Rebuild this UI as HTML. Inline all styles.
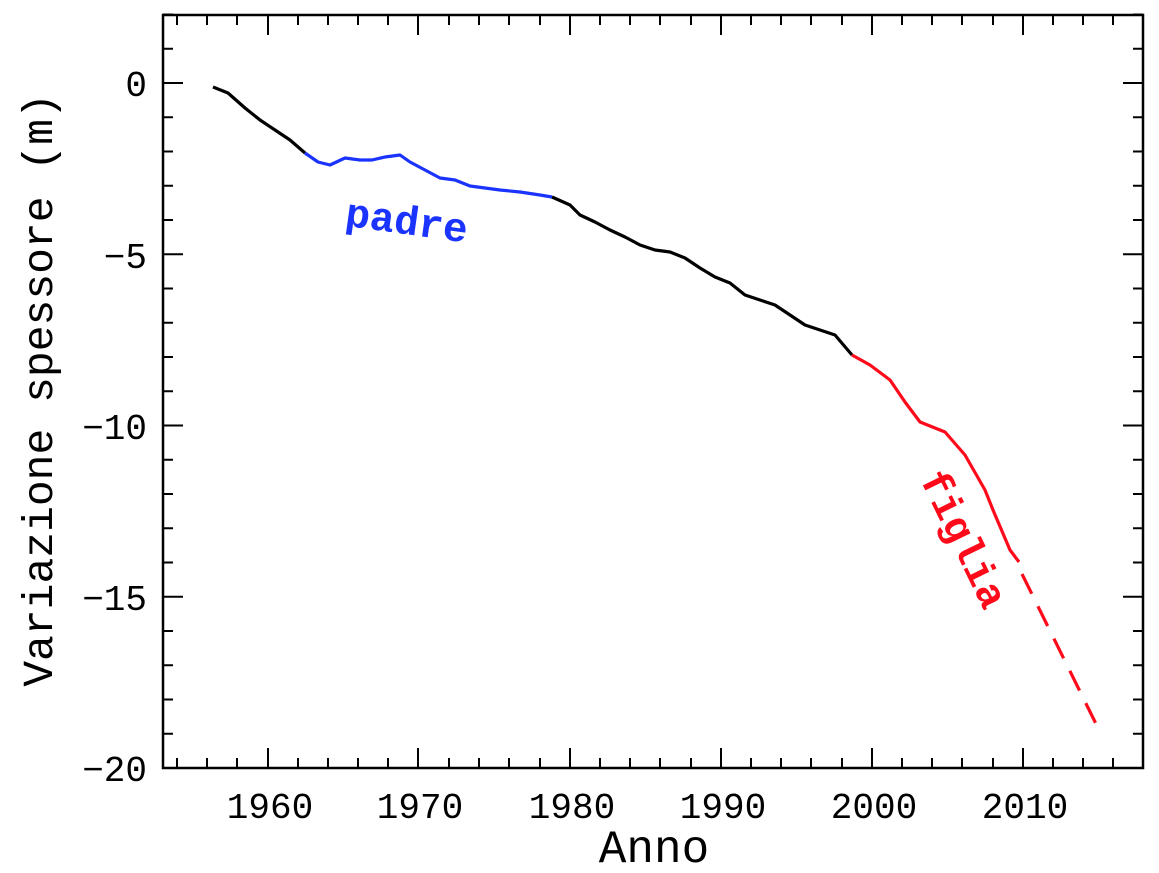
<!DOCTYPE html>
<html><head><meta charset="utf-8"><style>body{margin:0;background:#fff}svg{display:block}</style></head><body>
<svg width="1159" height="873" viewBox="0 0 1159 873" xmlns="http://www.w3.org/2000/svg">
<rect x="163" y="15" width="980" height="753" fill="none" stroke="#000" stroke-width="2.5"/>
<g stroke="#000" stroke-width="2">
<path d="M177,768v-10M207,768v-10M237,768v-10M268,768v-20M298,768v-10M328,768v-10M358,768v-10M388,768v-10M418,768v-20M449,768v-10M479,768v-10M509,768v-10M540,768v-10M570,768v-20M600,768v-10M630,768v-10M660,768v-10M691,768v-10M721,768v-20M751,768v-10M781,768v-10M811,768v-10M842,768v-10M872,768v-20M902,768v-10M932,768v-10M962,768v-10M993,768v-10M1023,768v-20M1053,768v-10M1083,768v-10M1113,768v-10"/>
<path d="M177,15v10M207,15v10M237,15v10M268,15v20M298,15v10M328,15v10M358,15v10M388,15v10M418,15v20M449,15v10M479,15v10M509,15v10M540,15v10M570,15v20M600,15v10M630,15v10M660,15v10M691,15v10M721,15v20M751,15v10M781,15v10M811,15v10M842,15v10M872,15v20M902,15v10M932,15v10M962,15v10M993,15v10M1023,15v20M1053,15v10M1083,15v10M1113,15v10"/>
</g>
<g id="yt" stroke="#000" stroke-width="2"></g>
<g font-family="Liberation Mono, monospace" font-size="36" text-anchor="middle" fill="#000">
<text x="270" y="818">1960</text><text x="420" y="818">1970</text><text x="572" y="818">1980</text><text x="723" y="818">1990</text><text x="874" y="818">2000</text><text x="1025" y="818">2010</text>
<text x="654" y="862" font-size="46">Anno</text>
</g>
<g font-family="Liberation Mono, monospace" font-size="36" text-anchor="end" fill="#000">
<text x="147" y="96">0</text><text x="147" y="268">−5</text><text x="147" y="439">−10</text><text x="147" y="610">−15</text><text x="147" y="781">−20</text>
</g>
<text transform="translate(52,390) rotate(-90)" font-family="Liberation Mono, monospace" font-size="43" text-anchor="middle">Variazione spessore (m)</text>
<g fill="none" stroke-width="3.2" stroke-linejoin="round">
<polyline stroke="#000" points="213,87 228,93 245,108 260,120 275,130 290,140 305,153"/>
<polyline stroke="#1a33ff" points="305,153 318,162 330,165 345,158 360,160 372,160 385,157 400,155 410,162 425,170 440,178 455,180 470,186 485,188 500,190 520,192 540,195 552,197"/>
<polyline stroke="#000" points="552,197 570,205 580,215 595,222 610,230 625,237 640,245 655,250 670,252 685,258 700,268 715,277 730,283 745,295 760,300 775,305 790,315 805,325 820,330 835,335 852,355"/>
<polyline stroke="#ff0a1a" points="852,355 870,365 890,380 905,402 920,422 945,432 965,455 985,490 993,510 1010,550 1019,562"/>
<line stroke="#ff0a1a" x1="1022" y1="574" x2="1100" y2="732" stroke-dasharray="22,14"/>
</g>
<text transform="translate(405,234) rotate(8)" font-family="Liberation Mono, monospace" font-weight="bold" font-size="41" fill="#1a33ff" text-anchor="middle">padre</text>
<text transform="translate(952,545) rotate(64)" font-family="Liberation Mono, monospace" font-weight="bold" font-size="41" fill="#ff0a1a" text-anchor="middle">figlia</text>
<script>
var g=document.getElementById('yt'),d='';
for(var v=2;v>=-20;v--){var y=83-v*34.25;var L=(v%5==0)?20:10;d+='M163,'+y+'h'+L+'M1143,'+y+'h-'+L;}
var p=document.createElementNS('http://www.w3.org/2000/svg','path');p.setAttribute('d',d);g.appendChild(p);
</script>
</svg>
</body></html>
